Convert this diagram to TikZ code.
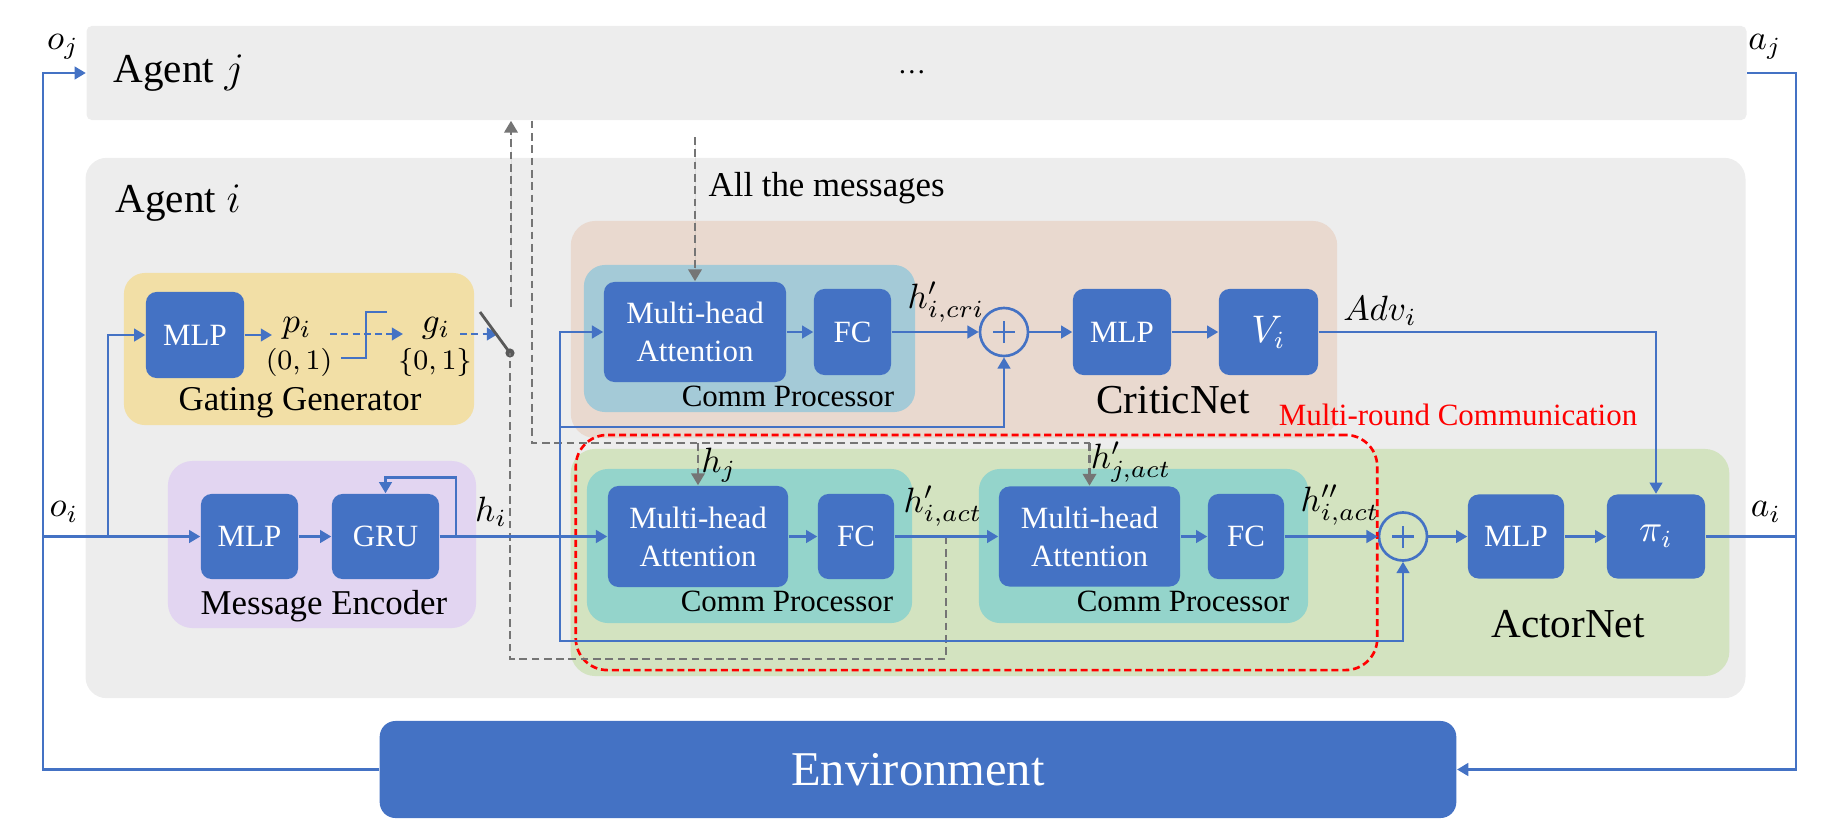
\documentclass[tikz,border=0pt]{standalone}
\usepackage{fontspec}
\setmainfont{Liberation Serif}
\usetikzlibrary{arrows.meta,positioning,calc}
\definecolor{nnBlue}{HTML}{4472C4}
\definecolor{nnGray}{HTML}{EDEDED}
\definecolor{nnYellow}{HTML}{F2DFA6}
\definecolor{nnLavender}{HTML}{E2D5F1}
\definecolor{nnTan}{HTML}{E9D9CF}
\definecolor{nnSky}{HTML}{A4CAD7}
\definecolor{nnGreen}{HTML}{D3E3C0}
\definecolor{nnTeal}{HTML}{94D4CB}
\definecolor{nnDash}{HTML}{757575}
\definecolor{nnDark}{HTML}{595959}
\tikzset{
  agbox/.style={rectangle,fill=nnGray,inner sep=0pt},
  grpbox/.style={rectangle,rounded corners=6pt,inner sep=0pt},
  nnbox/.style={rectangle,rounded corners=3pt,fill=nnBlue,
    text=white,align=center,inner sep=0pt,
    font=\fontsize{8.8}{10.8}\selectfont},
  addop/.style={circle,draw=nnBlue,line width=0.75pt,
    minimum size=0.48cm,inner sep=0pt,
    path picture={
      \draw[nnBlue,line width=0.75pt]
        ([xshift=-0.11cm]path picture bounding box.center) --
        ([xshift=0.11cm]path picture bounding box.center)
        ([yshift=-0.11cm]path picture bounding box.center) --
        ([yshift=0.11cm]path picture bounding box.center);}},
  grplbl/.style={font=\fontsize{9.9}{12}\selectfont,inner sep=0pt},
  cplbl/.style={font=\fontsize{8.8}{11}\selectfont,inner sep=0pt},
  netlbl/.style={font=\fontsize{11.7}{14}\selectfont,inner sep=0pt},
  lbl/.style={font=\fontsize{10}{12}\selectfont,inner sep=0pt},
  sml/.style={font=\fontsize{8}{10}\selectfont,inner sep=0pt},
  ln/.style={line width=0.7pt,draw=nnBlue},
  arr/.style={-{Triangle[length=3.2pt,width=3.6pt]},line width=0.7pt,draw=nnBlue},
  darr/.style={-{Triangle[length=3.2pt,width=3.6pt]},line width=0.7pt,
    draw=nnBlue,dash pattern=on 2pt off 1.2pt},
  gln/.style={line width=0.75pt,draw=nnDash,dash pattern=on 2.2pt off 1.3pt},
  garr/.style={-{Triangle[length=3.4pt,width=3.8pt]},line width=0.75pt,
    draw=nnDash,fill=nnDash,dash pattern=on 2.2pt off 1.3pt},
}
\begin{document}
\begin{tikzpicture}[x=0.01cm,y=-0.01cm]
  \useasboundingbox (0,0) rectangle (1824,833);

  % agents
  \node[agbox,rounded corners=1.5pt,minimum width=16.59cm,minimum height=0.94cm]
    (agj) at (916.5,73) {};
  \node[netlbl,anchor=west] (agjlbl) at (113,73) {Agent $j$};
  \node[sml] (dots) at (912,72) {\dots};
  \node[agbox,rounded corners=6pt,minimum width=16.59cm,minimum height=5.40cm]
    (agi) at (915.5,428) {};
  \node[netlbl,anchor=west] (agilbl) at (115,203) {Agent $i$};

  % group boxes
  \node[grpbox,fill=nnYellow,minimum width=3.50cm,minimum height=1.52cm]
    (gate) at (299,349) {};
  \node[grplbl] (gatelbl) at (300,403) {Gating Generator};
  \node[grpbox,fill=nnLavender,rounded corners=7pt,minimum width=3.08cm,minimum height=1.67cm]
    (enc) at (322,544.5) {};
  \node[grplbl] (enclbl) at (324,606) {Message Encoder};
  \node[grpbox,fill=nnTan,rounded corners=7pt,minimum width=7.66cm,minimum height=2.17cm]
    (critic) at (954,329.5) {};
  \node[netlbl] (criticlbl) at (1173,400) {CriticNet};
  \node[grpbox,fill=nnGreen,rounded corners=7pt,minimum width=11.58cm,minimum height=2.27cm]
    (actor) at (1150,562.5) {};
  \node[netlbl] (actorlbl) at (1568,624) {ActorNet};
  \node[grpbox,fill=nnSky,minimum width=3.31cm,minimum height=1.47cm]
    (cpc) at (749.5,338.5) {};
  \node[cplbl] (cpclbl) at (788,396) {Comm Processor};
  \node[grpbox,fill=nnTeal,minimum width=3.25cm,minimum height=1.54cm]
    (cpa) at (749.5,546) {};
  \node[cplbl] (cpalbl) at (787,601) {Comm Processor};
  \node[grpbox,fill=nnTeal,minimum width=3.29cm,minimum height=1.54cm]
    (cpb) at (1143.5,546) {};
  \node[cplbl] (cpblbl) at (1183,601) {Comm Processor};

  % blocks
  \node[nnbox,minimum width=0.98cm,minimum height=0.86cm] (gmlp) at (195,335) {MLP};
  \node[nnbox,minimum width=0.97cm,minimum height=0.85cm] (emlp) at (249.5,536.5) {MLP};
  \node[nnbox,minimum width=1.07cm,minimum height=0.85cm] (gru) at (385.5,536.5) {GRU};
  \node[nnbox,minimum width=1.82cm,minimum height=1.00cm] (mhac) at (695,332) {Multi-head\\Attention};
  \node[nnbox,minimum width=0.77cm,minimum height=0.86cm] (fcc) at (852.5,332) {FC};
  \node[addop] (pc) at (1004,332) {};
  \node[nnbox,minimum width=0.98cm,minimum height=0.86cm] (cmlp) at (1122,332) {MLP};
  \node[nnbox,minimum width=0.99cm,minimum height=0.86cm,font=\fontsize{10.5}{12}\selectfont]
    (vi) at (1268.5,332) {$V_i$};
  \node[nnbox,minimum width=1.80cm,minimum height=1.01cm] (mha1) at (698,536.5) {Multi-head\\Attention};
  \node[nnbox,minimum width=0.76cm,minimum height=0.85cm] (fc1) at (856,536.5) {FC};
  \node[nnbox,minimum width=1.81cm,minimum height=1.00cm] (mha2) at (1089.5,536.5) {Multi-head\\Attention};
  \node[nnbox,minimum width=0.76cm,minimum height=0.85cm] (fc2) at (1246,536.5) {FC};
  \node[addop] (pa) at (1403,536.5) {};
  \node[nnbox,minimum width=0.96cm,minimum height=0.84cm] (amlp) at (1516,536.5) {MLP};
  \node[nnbox,minimum width=0.98cm,minimum height=0.84cm,font=\fontsize{10.5}{12}\selectfont]
    (pi) at (1656,536.5) {$\pi_i$};
  \node[nnbox,rounded corners=4.5pt,minimum width=10.76cm,minimum height=0.97cm,
    font=\fontsize{13.8}{16}\selectfont] (env) at (918,769.5) {Environment};

  % multi-round frame
  \node[draw=red,line width=0.75pt,dash pattern=on 2pt off 1.1pt,rounded corners=9pt,
    minimum width=8.01cm,minimum height=2.35cm,inner sep=0pt] (mrc) at (976.5,552.5) {};
  \node[cplbl,text=red] (mrclbl) at (1458,415) {Multi-round Communication};

  % labels
  \node[lbl] (oj) at (63,47) {$o_j$};
  \node[lbl] (aj) at (1765,47) {$a_j$};
  \node[lbl] (oi) at (64,512) {$o_i$};
  \node[lbl] (ai) at (1766,512) {$a_i$};
  \node[lbl] (hi) at (491,512) {$h_i$};
  \node[lbl] (pv) at (297,328) {$p_i$};
  \node[sml] (pr) at (299,362) {$(0,1)$};
  \node[lbl] (gv) at (436,328) {$g_i$};
  \node[sml] (gr) at (435,362) {$\{0,1\}$};
  \node[lbl] (hcri) at (946,302) {$h^{\prime}_{i,cri}$};
  \node[lbl] (adv) at (1380,311) {$Adv_i$};
  \node[lbl] (hj) at (719,465) {$h_j$};
  \node[lbl] (hjact) at (1131,462) {$h^{\prime}_{j,act}$};
  \node[lbl] (hiact) at (943,506) {$h^{\prime}_{i,act}$};
  \node[lbl] (hiact2) at (1340,505) {$h^{\prime\prime}_{i,act}$};
  \node[grplbl,anchor=west] (msglbl) at (708,188) {All the messages};

  % coordinates
  \coordinate (lft) at (43,536.5);
  \coordinate (br) at (108,536.5);
  \coordinate (hout) at (456,536.5);
  \coordinate (jn) at (560,536.5);
  \coordinate (jc) at (560,427);
  \coordinate (ja) at (560,641);
  \coordinate (rgt) at (1796,536.5);
  \coordinate (pin) at (272,335);
  \coordinate (pout) at (330,334);
  \coordinate (gin) at (403,334);
  \coordinate (gout) at (460,334);
  \coordinate (swin) at (498,334);
  \coordinate (swtip) at (480,312);
  \coordinate (swdot) at (510,353);
  \coordinate (swup) at (511,307);
  \coordinate (tap) at (946,536.5);
  \coordinate (botc) at (510,659);
  \coordinate (rx) at (532,443);
  \coordinate (msgtop) at (695,137);

  % environment loop
  \draw[arr] (env.west) -| (lft) |- (agj.west);
  \draw[arr] (agj.east) -| (rgt) |- (env.east);
  \draw[ln] (pi) -- (rgt);

  % encoder and gating
  \draw[arr] (lft) -- (emlp.west);
  \draw[arr] (br) |- (gmlp.west);
  \draw[arr] (emlp) -- (gru);
  \draw[arr] (hout) |- ($(gru.north)+(0,-16)$) -- (gru.north);
  \draw[arr] (gmlp.east |- pin) -- (pin);
  \draw[darr] (pout) -- (gin);
  \draw[ln] (341,358) -- (366,358) -- (366,312) -- (387,312);
  \draw[darr] (gout) -- (swin);
  \draw[nnDark,line width=0.8pt] (swtip) -- (swdot);
  \fill[nnDark] (swdot) circle (1.3pt);

  % messages
  \draw[garr] (swup) -- (swup |- agj.south);
  \draw[gln] (tap) |- (botc) -- (swdot);
  \draw[gln] (rx |- agj.south) -- (rx) -- (mha2.north |- rx);
  \draw[garr] (mha1.north |- rx) -- (mha1.north);
  \draw[garr] (mha2.north |- rx) -- (mha2.north);
  \draw[garr] (msgtop) -- (mhac.north);

  % critic
  \draw[arr] (gru) -- (mha1);
  \draw[arr] (jn) |- (mhac.west);
  \draw[arr] (jc) -| (pc.south);
  \draw[arr] (jn) -- (ja) -| (pa.south);
  \draw[arr] (mhac) -- (fcc);
  \draw[arr] (fcc) -- (pc);
  \draw[arr] (pc) -- (cmlp);
  \draw[arr] (cmlp) -- (vi);
  \draw[arr] (vi.east) -| (pi.north);

  % actor
  \draw[arr] (mha1) -- (fc1);
  \draw[arr] (fc1) -- (mha2);
  \draw[arr] (mha2) -- (fc2);
  \draw[arr] (fc2) -- (pa);
  \draw[arr] (pa) -- (amlp);
  \draw[arr] (amlp) -- (pi);
\end{tikzpicture}
\end{document}
